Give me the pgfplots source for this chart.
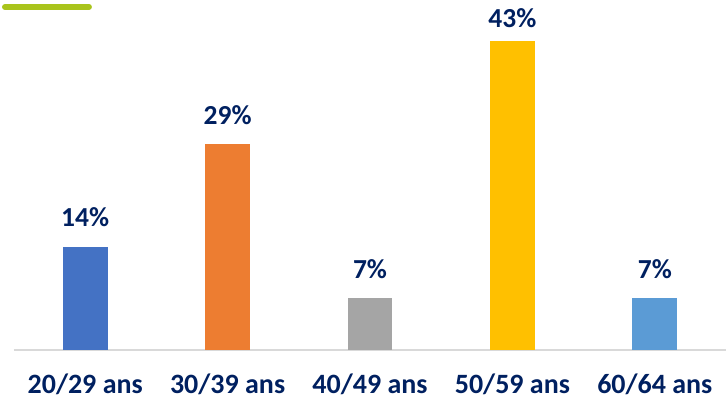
\documentclass[border=0pt]{standalone}
\usepackage{pgfplots}
\pgfplotsset{compat=1.18}
\usepackage{fontspec}
\setmainfont{Carlito}
\definecolor{navy}{RGB}{0,32,96}
\definecolor{c1}{HTML}{4472C4}
\definecolor{c2}{HTML}{ED7D31}
\definecolor{c3}{HTML}{A5A5A5}
\definecolor{c4}{HTML}{FFC000}
\definecolor{c5}{HTML}{5B9BD5}
\definecolor{lime}{RGB}{169,196,28}
\begin{document}
\begin{tikzpicture}
\begin{axis}[
  scale only axis, width=712.5pt, height=350pt,
  xmin=-0.5, xmax=4.5, ymin=0, ymax=48.6,
  axis x line=bottom, axis y line=none,
  x axis line style={color=black!15, line width=1.5pt, -},
  major tick length=0pt,
  ybar, bar width=45pt,
  xtick={0,1,2,3,4},
  xticklabels={20/29 ans,30/39 ans,40/49 ans,50/59 ans,60/64 ans},
  xticklabel style={font=\fontsize{28}{30}\selectfont\bfseries, text=navy, anchor=base, inner sep=0pt, yshift=-44pt},
  ytick=\empty,
  point meta=explicit symbolic,
  nodes near coords,
  every node near coord/.style={font=\fontsize{27.5}{30}\selectfont\bfseries, text=navy, anchor=base, inner sep=0pt, yshift=20pt},
  clip=false,
]
\addplot[fill=c1, draw=none, bar shift=0pt] coordinates {(0,14.29) [14\%]};
\addplot[fill=c2, draw=none, bar shift=0pt] coordinates {(1,28.57) [29\%]};
\addplot[fill=c3, draw=none, bar shift=0pt] coordinates {(2,7.14) [7\%]};
\addplot[fill=c4, draw=none, bar shift=0pt, every node near coord/.append style={yshift=-6pt}] coordinates {(3,42.86) [43\%]};
\addplot[fill=c5, draw=none, bar shift=0pt] coordinates {(4,7.14) [7\%]};
\end{axis}
\draw[lime, line width=6pt, line cap=round] (-9pt,343pt) -- (75pt,343pt);
\pgfresetboundingbox
\useasboundingbox (-14pt,-53pt) rectangle (712.5pt,350pt);
\end{tikzpicture}
\end{document}
